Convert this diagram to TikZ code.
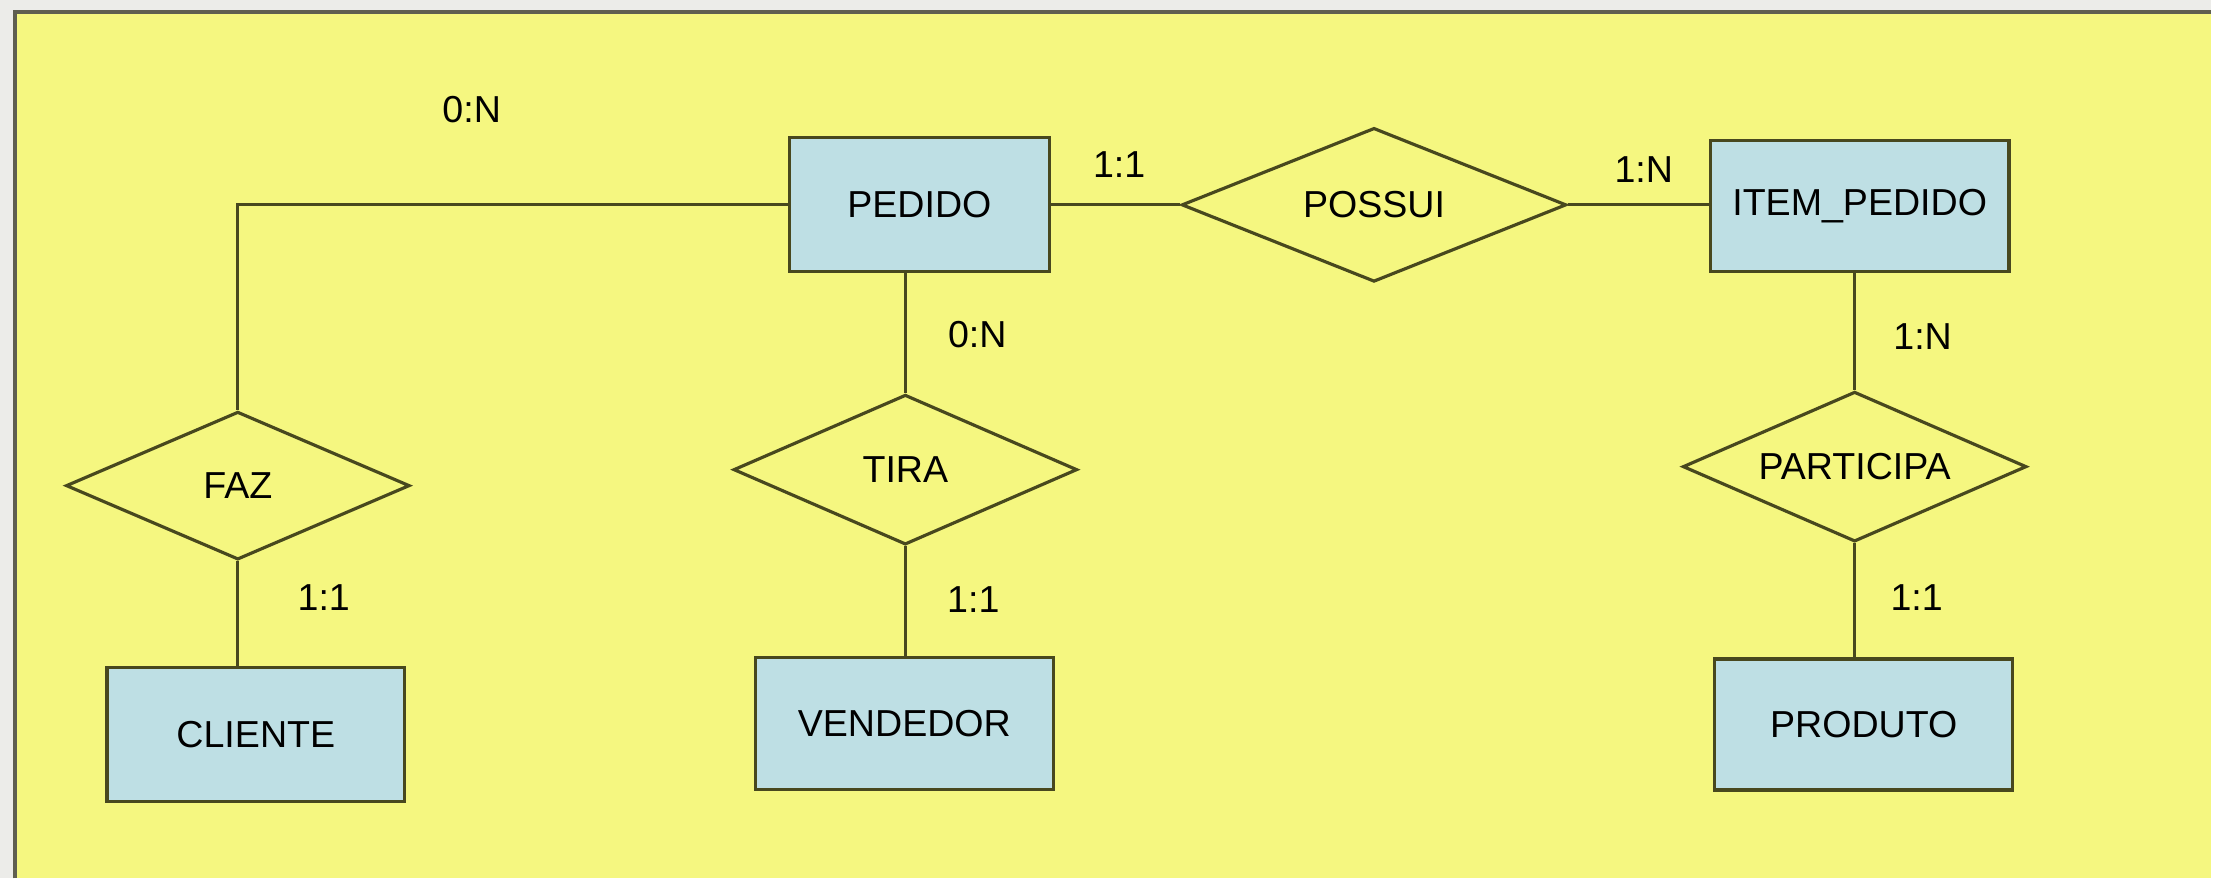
\documentclass[tikz,border=0pt]{standalone}
\usepackage{fontspec}
\setmainfont{Liberation Sans}
\usetikzlibrary{shapes.geometric}

\definecolor{pagegray}{RGB}{236,236,233}
\definecolor{panelyellow}{RGB}{245,247,128}
\definecolor{entblue}{RGB}{190,223,228}
\definecolor{edgeolive}{RGB}{72,72,30}
\definecolor{framegray}{RGB}{95,95,80}

\tikzset{
  entity/.style={draw=edgeolive, line width=0.9pt, fill=entblue, inner sep=0pt,
    minimum width=2.98cm, minimum height=1.32cm, font=\fontsize{10.7}{12}\selectfont},
  relation/.style={draw=edgeolive, line width=0.9pt, diamond, aspect=2.3, inner sep=0pt,
    minimum width=3.44cm, minimum height=1.49cm, font=\fontsize{10.7}{12}\selectfont},
  card/.style={inner sep=1pt, font=\fontsize{10.7}{12}\selectfont},
  link/.style={draw=edgeolive, line width=0.8pt}
}

\begin{document}
\begin{tikzpicture}
    % Window and panel
    \fill[pagegray] (0,0) rectangle (22.13,-8.79);
    \fill[panelyellow] (0.15,-0.12) rectangle (22.13,-8.79);
    \draw[framegray, line width=0.9pt] (0.15,-8.79) -- (0.15,-0.12) -- (22.13,-0.12);

    % Entities
    \node[entity, minimum width=2.60cm, minimum height=1.34cm] (pedido) at (9.20,-2.05) {PEDIDO};
    \node[entity, minimum width=2.99cm, minimum height=1.31cm] (itempedido) at (18.61,-2.06) {ITEM\_PEDIDO};
    \node[entity, minimum height=1.34cm] (cliente) at (2.56,-7.35) {CLIENTE};
    \node[entity] (vendedor) at (9.05,-7.24) {VENDEDOR};
    \node[entity, minimum height=1.31cm] (produto) at (18.65,-7.25) {PRODUTO};

    % Relationships
    \node[relation, minimum width=3.85cm, minimum height=1.54cm] (possui) at (13.75,-2.05) {POSSUI};
    \node[relation, minimum height=1.48cm] (faz) at (2.38,-4.86) {FAZ};
    \node[relation, minimum height=1.50cm] (tira) at (9.06,-4.70) {TIRA};
    \node[relation, minimum height=1.50cm] (participa) at (18.56,-4.67) {PARTICIPA};

    % Connections
    \coordinate (fazcorner) at (faz.north |- pedido.west);
    \draw[link] (pedido.west) -- (fazcorner) -- (faz.north);
    \draw[link] (faz.south) -- (faz.south |- cliente.north);
    \draw[link] (pedido.east) -- (possui.west);
    \draw[link] (possui.east) -- (possui.east -| itempedido.west);
    \draw[link] (pedido.south -| tira.north) -- (tira.north);
    \draw[link] (tira.south) -- (tira.south |- vendedor.north);
    \draw[link] (itempedido.south -| participa.north) -- (participa.north);
    \draw[link] (participa.south) -- (participa.south |- produto.north);

    % Cardinalities
    \node[card] (cardfazped) at (4.72,-1.10) {0:N};
    \node[card] (cardpedpos) at (11.20,-1.65) {1:1};
    \node[card] (cardposite) at (16.45,-1.70) {1:N};
    \node[card] (cardpedtir) at (9.78,-3.35) {0:N};
    \node[card] (cardfazcli) at (3.24,-5.98) {1:1};
    \node[card] (cardtirven) at (9.74,-6.00) {1:1};
    \node[card] (carditepar) at (19.24,-3.37) {1:N};
    \node[card] (cardparpro) at (19.18,-5.98) {1:1};
\end{tikzpicture}
\end{document}
